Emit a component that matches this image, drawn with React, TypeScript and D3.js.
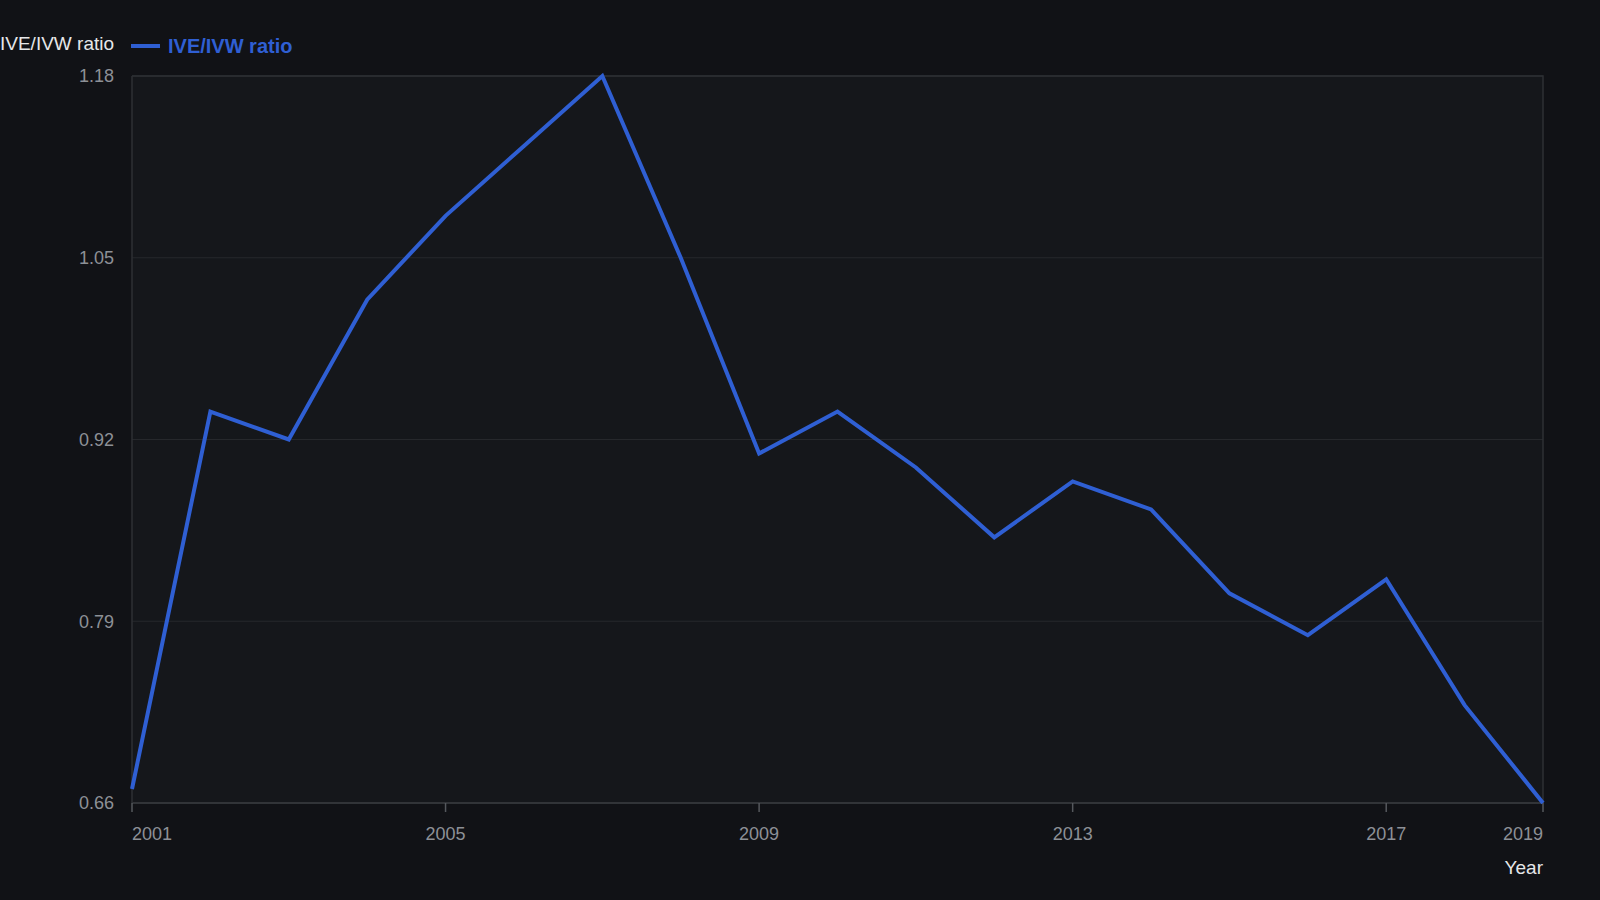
import React, { useEffect, useRef } from "react";
import * as d3 from "d3";

const years = [2001, 2002, 2003, 2004, 2005, 2006, 2007, 2008, 2009, 2010, 2011, 2012, 2013, 2014, 2015, 2016, 2017, 2018, 2019];
const ratios = [0.67, 0.94, 0.92, 1.02, 1.08, 1.13, 1.18, 1.05, 0.91, 0.94, 0.9, 0.85, 0.89, 0.87, 0.81, 0.78, 0.82, 0.73, 0.66];
const yTicks = [0.66, 0.79, 0.92, 1.05, 1.18];
const xTicks = [2001, 2005, 2009, 2013, 2017, 2019];

const seriesName = "IVE/IVW ratio";
const lineColor = "#2f5fd3";

export default function App() {
    const ref = useRef<SVGSVGElement | null>(null);

    useEffect(() => {
        if (!ref.current) return;
        const width = 1600;
        const height = 900;
        const margin = { top: 76, right: 57, bottom: 97, left: 132 };

        const svg = d3.select(ref.current);
        svg.selectAll("*").remove();

        svg.append("rect").attr("width", width).attr("height", height).attr("fill", "#111216");

        const innerW = width - margin.left - margin.right;
        const innerH = height - margin.top - margin.bottom;

        const x = d3.scaleLinear().domain([2001, 2019]).range([0, innerW]);
        const y = d3.scaleLinear().domain([0.66, 1.18]).range([innerH, 0]);

        const g = svg.append("g").attr("transform", `translate(${margin.left},${margin.top})`);

        // plot area
        g.append("rect").attr("width", innerW).attr("height", innerH).attr("fill", "#15171b");

        // grid lines
        g.append("g")
            .selectAll("line")
            .data(yTicks)
            .join("line")
            .attr("x1", 0)
            .attr("x2", innerW)
            .attr("y1", d => y(d))
            .attr("y2", d => y(d))
            .attr("stroke", "#26282c")
            .attr("stroke-width", 1);

        // frame: top + right border
        g.append("path")
            .attr("d", `M0,${y(1.18)}H${innerW}V${innerH}`)
            .attr("fill", "none")
            .attr("stroke", "#2e3034")
            .attr("stroke-width", 1.5);

        // x axis baseline
        g.append("line")
            .attr("x1", 0).attr("x2", innerW)
            .attr("y1", innerH).attr("y2", innerH)
            .attr("stroke", "#3a3c40").attr("stroke-width", 1.5);

        // y axis line
        g.append("line")
            .attr("x1", 0).attr("x2", 0)
            .attr("y1", 0).attr("y2", innerH)
            .attr("stroke", "#2e3034").attr("stroke-width", 1.5);

        // x ticks
        const xt = g.append("g").attr("transform", `translate(0,${innerH})`);
        xt.selectAll("line")
            .data(xTicks)
            .join("line")
            .attr("x1", d => x(d)).attr("x2", d => x(d))
            .attr("y1", 0).attr("y2", 9)
            .attr("stroke", "#55585d").attr("stroke-width", 1.5);
        xt.selectAll("text")
            .data(xTicks)
            .join("text")
            .attr("x", d => x(d))
            .attr("y", 37)
            .attr("text-anchor", (d, i) => (i === 0 ? "start" : i === xTicks.length - 1 ? "end" : "middle"))
            .attr("fill", "#8d9096")
            .style("font-family", "'Liberation Sans', Arial, sans-serif")
            .style("font-size", "18px")
            .text(d => String(d));

        // y tick labels
        g.append("g")
            .selectAll("text")
            .data(yTicks)
            .join("text")
            .attr("x", -18)
            .attr("y", d => y(d))
            .attr("dy", "0.35em")
            .attr("text-anchor", "end")
            .attr("fill", "#8d9096")
            .style("font-family", "'Liberation Sans', Arial, sans-serif")
            .style("font-size", "18px")
            .text(d => d.toFixed(2));

        // line
        const line = d3.line<number>()
            .x((_, i) => x(years[i]))
            .y(d => y(d));

        g.append("path")
            .datum(ratios)
            .attr("d", line)
            .attr("fill", "none")
            .attr("stroke", lineColor)
            .attr("stroke-width", 4)
            .attr("stroke-linejoin", "miter");

        // axis titles
        svg.append("text")
            .attr("x", 0)
            .attr("y", 50)
            .attr("fill", "#e6e7e9")
            .style("font-family", "'Liberation Sans', Arial, sans-serif")
            .style("font-size", "19px")
            .text(seriesName);

        svg.append("text")
            .attr("x", margin.left + innerW)
            .attr("y", 874)
            .attr("text-anchor", "end")
            .attr("fill", "#e6e7e9")
            .style("font-family", "'Liberation Sans', Arial, sans-serif")
            .style("font-size", "19px")
            .text("Year");

        // legend
        const lg = svg.append("g").attr("transform", "translate(131,46)");
        lg.append("line")
            .attr("x1", 0).attr("x2", 29)
            .attr("y1", 0).attr("y2", 0)
            .attr("stroke", lineColor)
            .attr("stroke-width", 4);
        lg.append("text")
            .attr("x", 37)
            .attr("y", 0)
            .attr("dy", "0.35em")
            .attr("fill", lineColor)
            .style("font-family", "'Liberation Sans', Arial, sans-serif")
            .style("font-size", "20px")
            .style("font-weight", "bold")
            .text(seriesName);
    }, []);

    return (
        <div style={{ position: "fixed", left: 0, top: 0, width: 1600, height: 900, background: "#111216" }}>
            <svg ref={ref} width={1600} height={900} style={{ display: "block" }} />
        </div>
    );
}
